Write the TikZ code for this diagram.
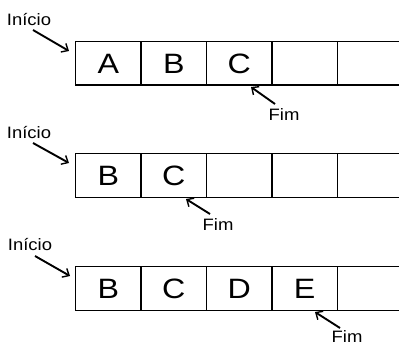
\documentclass[tikz,border=0pt]{standalone}
\usepackage{fontspec}
\setmainfont{Liberation Sans}
\newfontfamily\cellfont[FakeStretch=1.15]{Liberation Sans}
\newfontfamily\labelfont[FakeStretch=1.12]{Liberation Sans}
\usetikzlibrary{arrows.meta}
\tikzset{
  cell/.style={draw, line width=1.4pt, minimum width=65.4pt, minimum height=43.5pt,
    inner sep=0pt, anchor=north west, font=\cellfont\fontsize{28}{28}\selectfont},
  tag/.style={inner sep=0pt, font=\labelfont\fontsize{16.5}{17}\selectfont},
  pointer/.style={line width=1.9pt, -{Straight Barb[length=5.5pt,width=10pt,line width=1.4pt]}}
}
\begin{document}
\begin{tikzpicture}[x=1pt,y=-1pt]
\useasboundingbox (0,0) rectangle (399,345);
\clip (0,0) rectangle (399,345);
% first row: A B C
\foreach \i/\t in {1/A,2/B,3/C,4/,5/,6/}
  \node[cell] (r1c\i) at ({75+65.4*(\i-1)},41) {\t};
% second row: B C
\foreach \i/\t in {1/B,2/C,3/,4/,5/,6/}
  \node[cell] (r2c\i) at ({75+65.4*(\i-1)},153) {\t};
% third row: B C D E
\foreach \i/\t in {1/B,2/C,3/D,4/E,5/,6/}
  \node[cell] (r3c\i) at ({75+65.4*(\i-1)},266) {\t};

% start labels
\node[tag] (s1) at (29,20) {Início};
\node[tag] (s2) at (29,133) {Início};
\node[tag] (s3) at (30,245) {Início};
\coordinate (s1t) at (69,51);
\coordinate (s2t) at (69,163);
\coordinate (s3t) at (70,276);
\draw[pointer] (33,30) -- (s1t);
\draw[pointer] (33,143) -- (s2t);
\draw[pointer] (35,256) -- (s3t);

% end labels
\node[tag] (e1) at (284,115) {Fim};
\node[tag] (e2) at (218,225) {Fim};
\node[tag] (e3) at (347,337) {Fim};
\coordinate (e1t) at (251,87);
\coordinate (e2t) at (186,199);
\coordinate (e3t) at (315,312);
\draw[pointer] (275,104) -- (e1t);
\draw[pointer] (210,214) -- (e2t);
\draw[pointer] (340,328) -- (e3t);
\end{tikzpicture}
\end{document}
